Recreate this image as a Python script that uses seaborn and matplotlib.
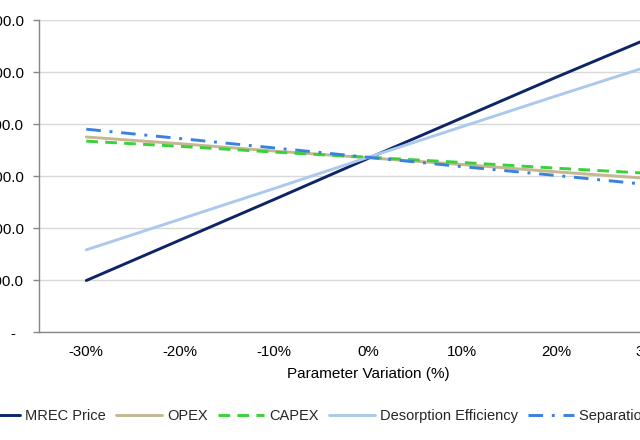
import numpy as np
import pandas as pd
import matplotlib
matplotlib.use("Agg")
import matplotlib.pyplot as plt
import seaborn as sns
from matplotlib.lines import Line2D

# sensitivity values
variation = ["-30%", "-20%", "-10%", "0%", "10%", "20%", "30%"]
mrec_price = [99, 177, 255, 334, 412, 490, 566]
opex = [375, 362, 348, 335, 322, 308, 295]
capex = [367, 357, 346, 336, 326, 315, 305]
desorption = [158, 217, 276, 336, 395, 454, 512]
separation = [390, 372, 354, 336, 318, 301, 283]
y_ticks = [0, 100, 200, 300, 400, 500, 600]

series = {
    "MREC Price": mrec_price,
    "OPEX": opex,
    "CAPEX": capex,
    "Desorption Efficiency": desorption,
    "Separation Efficiency": separation,
}
rows = []
for name, vals in series.items():
    for i, v in enumerate(vals):
        rows.append({"pos": i, "variation": variation[i], "series": name, "value": v})
df = pd.DataFrame(rows)

palette = {
    "MREC Price": "#0d2466",
    "OPEX": "#c6b792",
    "CAPEX": "#3ad13a",
    "Desorption Efficiency": "#aac9ec",
    "Separation Efficiency": "#3a82de",
}
dashes = {
    "MREC Price": "",
    "OPEX": "",
    "CAPEX": (4, 2.5),
    "Desorption Efficiency": "",
    "Separation Efficiency": (5, 3, 1, 3),
}

sns.set_theme(style="white")
plt.rcParams["font.family"] = ["Liberation Sans", "DejaVu Sans"]

fig = plt.figure(figsize=(6.4, 4.4), dpi=100)
ax = fig.add_axes([39.3 / 640, 108 / 440, 658 / 640, 312 / 440])

sns.lineplot(data=df, x="pos", y="value", hue="series", style="series",
             palette=palette, dashes=dashes, linewidth=2.1, ax=ax, legend=False)

ax.set_xlim(-0.5, 6.5)
ax.set_ylim(0, 600)
ax.set_yticks(y_ticks)
ax.set_yticklabels(["-  " if t == 0 else f"{t:,.1f}" for t in y_ticks])
ax.set_xticks(range(len(variation)))
ax.set_xticklabels(variation)
ax.set_xticks(np.arange(-0.5, 7, 1), minor=True)
ax.tick_params(axis="x", which="major", length=0, pad=9, labelsize=10.8, colors="black")
ax.tick_params(axis="x", which="minor", length=4, width=1, color="#868686", direction="out")
ax.tick_params(axis="y", length=4, width=1, color="#868686", pad=7, labelsize=10.8,
               labelcolor="black", left=True)
ax.yaxis.grid(True, color="#d9d9d9", linewidth=1)
ax.xaxis.grid(False)
ax.set_axisbelow(True)
for s in ["top", "right"]:
    ax.spines[s].set_visible(False)
for s in ["left", "bottom"]:
    ax.spines[s].set_color("#868686")
    ax.spines[s].set_linewidth(1)

ax.set_xlabel("Parameter Variation (%)", fontsize=11, color="black", labelpad=6)
ax.set_ylabel("")

handles = []
for name in series:
    d = dashes[name]
    ls = "-" if d == "" else (0, d)
    handles.append(Line2D([], [], color=palette[name], linewidth=2.1, linestyle=ls))
fig.legend(handles, list(series.keys()), loc="center left",
           bbox_to_anchor=(-26 / 640, 24 / 440), ncol=5, frameon=False,
           fontsize=10.5, handlelength=3.15, handletextpad=0.35,
           columnspacing=0.7, borderpad=0, borderaxespad=0)

fig.savefig("out.png", dpi=100)
